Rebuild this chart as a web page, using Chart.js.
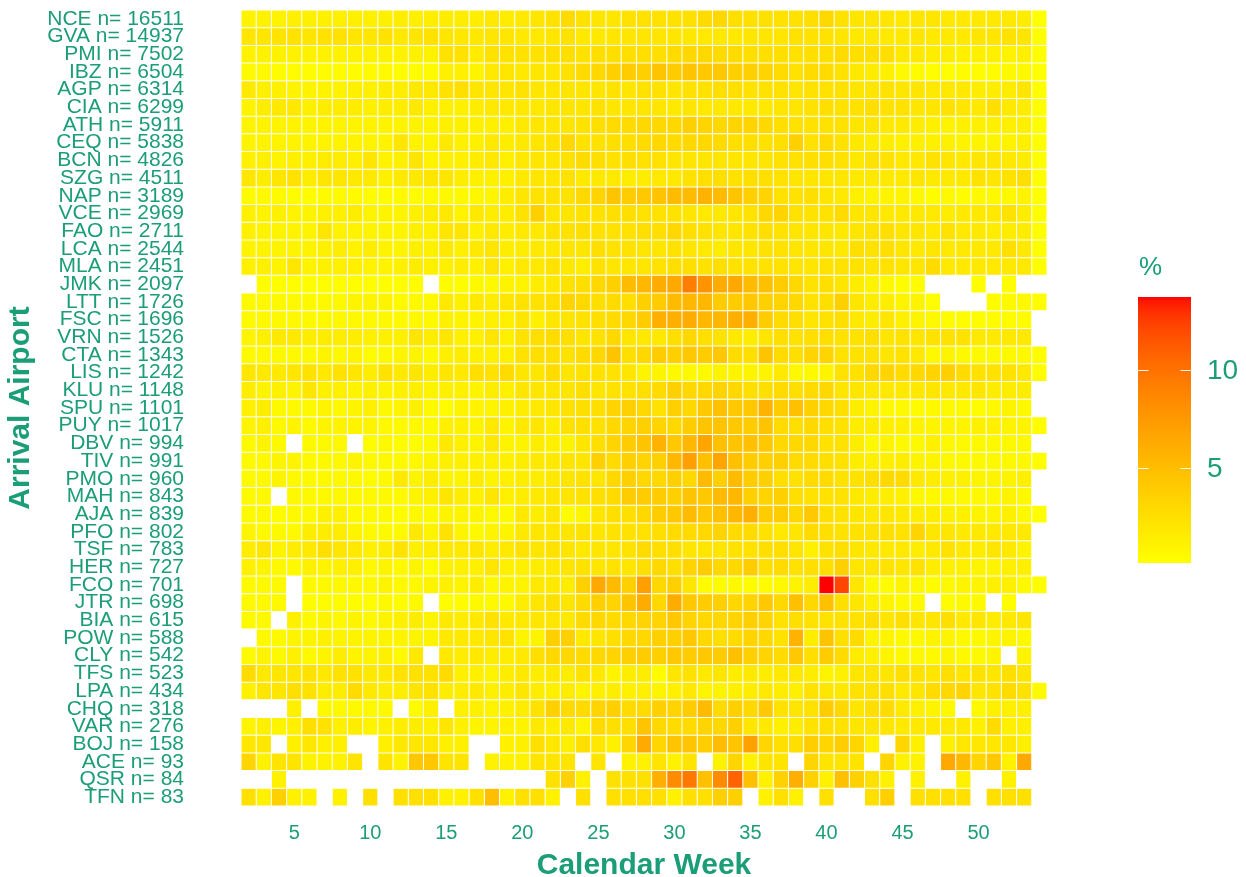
<!DOCTYPE html>
<html>
<head>
<meta charset="utf-8">
<script src="https://cdn.jsdelivr.net/npm/chart.js@4.4.1/dist/chart.umd.min.js"></script>
<style>
  html, body { margin: 0; padding: 0; background: #ffffff; }
  #wrap { width: 1246px; height: 877px; position: relative; }
</style>
</head>
<body>
<div id="wrap"><canvas id="heat" width="1246" height="877"></canvas></div>
<script>
// Arrival airports (top to bottom) and their flight counts
const airports = ['NCE','GVA','PMI','IBZ','AGP','CIA','ATH','CEQ','BCN','SZG','NAP','VCE','FAO','LCA','MLA',
  'JMK','LTT','FSC','VRN','CTA','LIS','KLU','SPU','PUY','DBV','TIV','PMO','MAH','AJA','PFO',
  'TSF','HER','FCO','JTR','BIA','POW','CLY','TFS','LPA','CHQ','VAR','BOJ','ACE','QSR','TFN'];
const flights = [16511,14937,7502,6504,6314,6299,5911,5838,4826,4511,3189,2969,2711,2544,2451,
  2097,1726,1696,1526,1343,1242,1148,1101,1017,994,991,960,843,839,802,
  783,727,701,698,615,588,542,523,434,318,276,158,93,84,83];

// Calendar weeks shown as columns
const weeks = [2,3,4,5,6,7,8,9,10,11,12,13,14,15,16,17,18,19,20,21,22,23,24,25,26,27,28,
  29,30,31,32,33,34,35,36,37,38,39,40,41,42,43,44,45,46,47,48,49,50,51,52,53,54];
const weekTicks = [5,10,15,20,25,30,35,40,45,50];
const legendTicks = [5,10];

// Share of each airport's flights per week, in %, one row per airport (null = no flights)
const weeklyShare = [
  [1.04,1.13,1.04,1.31,1.31,1.22,1.31,1.31,1.22,1.31,1.48,1.31,1.39,1.48,1.48,1.39,1.74,1.57, 1.74,2.0,2.26,2.78,2.26,2.0,2.0,2.26,2.26,2.26,2.26,2.39,2.78,3.05,2.52,2.39,2.39, 2.26,2.26,2.52,3.05,2.26,2.0,2.0,2.0,1.74,2.0,2.0,1.74,1.74,1.74,1.74,1.74,1.48,0.13],
  [2.0,2.0,2.18,2.26,2.0,2.26,2.26,2.0,2.0,2.26,1.74,2.0,2.26,2.0,1.87,1.87,2.0,2.0, 1.74,1.74,2.0,2.26,1.74,1.74,2.0,2.0,2.0,2.0,2.0,1.87,1.74,1.74,1.74,2.0,2.0, 2.0,2.26,2.26,2.26,2.0,1.74,1.74,1.74,1.74,2.0,1.74,1.74,1.74,2.0,2.0,2.26,2.0,0.22],
  [1.13,1.13,1.13,1.13,1.13,1.13,1.13,1.13,1.13,1.13,1.13,1.13,1.13,2.26,2.26,1.57,2.26,2.26, 2.26,2.26,2.52,2.52,2.26,2.52,2.52,2.52,2.52,2.52,2.78,3.05,3.05,2.78,2.78,2.52,2.52, 2.52,2.26,2.52,2.52,2.78,2.52,2.52,2.52,1.74,1.74,1.48,1.48,1.22,1.22,1.22,1.04,1.22,0.22],
  [0.61,0.52,0.44,0.44,0.44,0.44,0.44,0.44,0.52,0.52,0.44,0.39,0.52,1.22,1.22,0.96,1.74,2.0, 1.74,2.0,2.0,2.26,2.78,3.05,3.6,3.9,3.6,4.5,3.9,4.5,4.2,4.2,3.6,3.6,3.31, 2.78,2.26,2.78,2.78,2.26,1.74,1.48,1.22,0.61,0.39,0.22,0.3,0.39,0.39,0.39,0.61,0.61,0.13],
  [1.74,1.22,1.22,1.04,1.04,1.04,1.04,1.22,1.22,1.48,1.48,1.74,1.74,2.26,2.52,2.0,2.0,2.0, 2.26,2.0,2.0,2.0,2.0,2.0,2.26,2.0,2.26,2.26,2.0,2.26,2.26,2.52,2.52,2.26,2.26, 2.26,2.0,2.26,2.26,2.26,2.0,2.0,2.26,2.0,2.0,1.74,1.74,1.74,1.48,1.48,1.48,2.0,0.22],
  [1.04,1.48,1.74,1.74,1.22,1.48,1.48,1.48,1.22,1.48,1.57,1.74,1.22,1.22,1.22,1.48,1.74,1.74, 1.74,1.74,2.0,2.0,2.0,2.26,2.0,2.0,2.0,2.0,1.74,2.0,1.74,1.74,1.74,1.74,1.74, 2.0,2.0,2.26,2.52,2.26,2.26,2.52,2.26,2.26,2.0,2.0,2.26,2.0,1.74,2.52,1.74,1.48,0.22],
  [0.96,1.04,0.96,1.04,0.96,1.04,0.96,0.96,1.04,1.04,0.96,1.04,1.04,1.22,1.22,1.22,1.22,1.22, 1.74,2.0,2.0,2.0,2.26,2.52,2.78,2.78,3.05,3.05,3.05,3.6,3.31,3.05,3.31,3.31,3.05, 2.52,2.26,2.26,2.26,2.26,2.0,2.0,1.74,1.74,1.48,1.22,1.04,1.22,1.22,1.22,1.22,1.22,0.22],
  [1.04,1.04,1.04,1.04,1.04,1.04,1.04,1.04,1.04,1.04,2.0,1.04,0.96,1.74,1.22,1.22,1.74,1.48, 1.74,2.0,2.26,3.05,2.26,2.26,2.52,2.52,2.78,3.05,2.78,3.05,3.05,2.78,2.52,2.52,2.26, 2.52,3.6,2.26,2.78,2.26,1.74,1.48,1.48,1.22,1.22,1.22,1.22,1.04,0.96,0.96,1.04,1.22,0.22],
  [1.22,1.22,1.04,1.22,1.22,1.48,1.48,1.22,2.0,1.04,1.22,2.0,1.04,1.22,1.22,1.48,1.74,1.22, 1.74,2.0,2.0,2.26,2.78,2.52,2.26,2.52,2.26,2.26,2.0,2.0,2.0,2.0,2.0,2.0,2.0, 2.26,2.26,2.52,2.52,2.26,1.74,2.26,2.26,1.74,1.74,2.26,2.0,1.74,2.0,2.0,1.74,1.48,0.22],
  [2.0,1.48,2.0,2.26,1.48,2.0,2.0,1.74,1.74,1.22,1.74,1.74,2.0,2.0,1.48,1.22,1.22,1.22, 1.74,2.0,2.0,2.26,1.74,1.74,1.74,1.48,1.48,1.74,1.74,2.26,2.52,2.52,2.26,2.52,2.52, 2.26,2.0,2.0,2.0,2.0,1.74,1.74,1.74,1.74,2.0,1.74,1.74,1.74,2.26,2.0,2.26,2.52,0.22],
  [0.52,0.52,0.52,0.44,0.44,0.52,0.52,0.52,0.44,0.44,0.52,0.44,0.52,0.61,0.61,0.7,0.87,1.48, 2.0,2.26,2.26,2.26,3.05,3.31,4.5,3.9,4.2,4.5,5.1,5.1,5.7,5.1,4.5,3.6,3.31, 2.26,2.26,2.52,2.0,1.74,1.22,0.96,0.96,0.96,0.61,0.39,0.61,0.39,0.61,0.61,0.61,0.96,0.13],
  [1.22,1.04,1.22,1.04,0.96,1.22,1.22,1.48,0.96,0.96,0.96,1.22,1.48,1.74,1.04,1.74,1.48,1.48, 2.26,3.6,2.0,2.0,2.26,2.26,2.52,2.52,2.26,2.26,2.26,2.0,1.74,1.74,2.0,2.26,3.05, 3.31,2.26,2.26,2.26,2.78,2.0,2.0,1.74,1.74,1.74,1.74,1.48,1.74,1.74,1.74,2.26,1.48,0.22],
  [1.22,1.04,0.96,1.04,0.96,2.0,1.04,1.04,0.96,0.96,0.96,1.22,1.22,2.0,2.0,1.22,1.74,1.48, 1.74,1.74,2.26,2.26,2.52,2.26,2.26,2.26,2.52,2.52,3.05,2.52,2.26,2.0,2.0,2.26,2.52, 2.26,2.0,2.0,2.0,1.74,2.0,2.26,2.52,2.0,2.0,1.74,2.26,1.74,1.74,1.48,1.48,1.48,0.22],
  [1.04,1.04,0.96,0.96,1.04,1.22,1.48,1.04,1.48,1.04,0.96,1.22,1.22,1.74,1.22,1.74,2.0,1.48, 1.48,1.74,1.74,2.0,2.0,2.52,2.26,2.26,2.0,2.0,2.26,2.0,1.74,1.48,2.0,2.0,2.26, 2.26,2.0,2.0,2.0,1.74,2.52,2.26,2.52,2.0,1.74,2.0,1.74,1.74,1.74,1.74,2.52,1.74,0.22],
  [1.22,1.22,1.04,2.0,1.04,1.22,1.22,1.22,1.04,1.04,1.22,1.48,1.22,1.22,1.48,1.22,2.0,1.22, 1.74,1.74,2.26,1.74,1.48,2.26,2.0,2.0,2.0,2.26,2.52,2.52,2.26,2.52,2.26,2.26,2.26, 2.26,2.0,2.0,2.26,2.26,2.26,2.0,2.26,2.0,2.0,2.78,1.74,1.74,1.74,1.74,1.74,1.74,0.22],
  [null,0.3,0.3,0.3,0.3,0.3,0.3,0.3,0.3,0.3,0.3,0.3,null,0.39,0.39,0.61,0.61,0.96, 0.96,1.48,1.74,2.26,2.52,3.05,3.6,5.1,5.4,6.2,6.5,9.2,7.9,6.2,6.5,5.1,4.8, 3.9,3.05,2.26,2.52,2.0,1.48,0.96,0.61,0.39,0.39,null,null,null,0.3,null,0.3,null,null],
  [0.61,0.61,0.61,0.61,0.61,0.61,0.61,0.96,0.96,0.96,0.61,0.61,0.61,1.74,1.22,1.74,1.48,2.0, 2.26,2.26,2.52,3.31,3.05,2.52,2.78,2.52,3.6,3.9,5.1,5.4,5.4,3.9,3.9,4.2,3.6, 3.31,3.05,2.26,2.52,3.6,2.0,1.48,1.48,0.96,0.96,0.3,null,null,null,0.39,0.61,0.61,0.39],
  [0.61,0.61,0.61,0.61,0.61,0.61,0.61,0.61,0.61,0.61,0.61,0.61,0.61,1.22,0.96,0.96,1.22,1.22, 2.0,1.22,2.0,2.0,2.26,2.52,2.78,3.05,3.9,6.0,6.0,6.2,5.4,5.4,6.0,6.0,3.9, 2.78,2.52,2.0,2.26,2.52,1.74,1.48,2.0,1.22,0.96,0.61,0.39,0.39,0.39,0.39,0.39,0.39,null],
  [0.96,1.22,1.74,1.74,1.48,1.48,1.48,1.48,1.22,1.22,1.22,2.0,1.48,2.0,1.22,1.22,2.0,1.22, 2.26,2.52,2.78,2.52,2.0,2.26,3.05,2.0,1.74,1.74,2.52,3.05,2.52,2.26,1.74,1.48,2.0, 2.52,2.26,2.52,2.52,2.26,2.26,2.52,2.0,2.26,2.0,2.26,2.26,2.26,1.74,1.74,1.74,1.74,null],
  [0.61,0.61,0.61,0.61,0.61,0.96,0.61,0.96,0.39,0.61,0.96,0.96,0.61,1.22,1.48,1.22,1.22,1.22, 2.26,2.52,2.52,2.26,2.78,3.05,4.5,2.52,3.05,3.9,3.6,4.2,3.9,4.2,2.78,2.52,4.5, 2.78,2.52,3.31,3.31,2.26,2.26,2.26,2.0,2.26,1.74,0.61,0.96,0.61,0.61,0.61,0.61,0.61,0.39],
  [2.0,1.74,1.74,2.0,2.26,1.74,2.26,2.0,1.48,2.26,1.74,2.0,1.48,2.0,1.74,2.52,2.26,2.78, 2.0,2.0,2.78,2.0,2.26,2.26,2.26,2.0,0.96,0.96,0.61,0.61,0.61,0.96,0.96,0.96,0.96, 1.74,0.61,0.61,0.96,2.26,2.26,3.05,3.31,2.78,3.05,3.31,3.6,2.78,2.26,2.26,2.26,1.74,0.39],
  [1.48,0.96,1.22,0.96,2.0,1.22,1.22,0.96,1.22,0.96,1.22,1.22,0.96,1.22,1.22,0.96,1.48,1.22, 2.0,2.0,2.0,2.0,2.52,2.0,2.26,2.26,2.52,2.78,3.6,3.05,3.05,3.31,3.05,2.52,2.52, 2.78,2.52,2.78,3.05,2.0,2.0,1.74,1.74,1.74,1.74,2.0,1.74,1.74,2.0,1.48,1.48,1.48,null],
  [1.22,1.48,0.61,0.61,0.61,0.96,0.61,0.96,1.22,0.61,0.96,1.22,0.61,0.39,0.96,1.04,0.96,1.22, 1.48,1.74,2.0,2.26,2.52,2.52,3.31,3.6,3.05,2.26,3.6,3.05,4.2,4.8,4.2,4.2,5.7, 3.9,4.8,3.6,3.05,2.52,1.48,0.96,0.61,0.61,0.39,0.61,0.61,0.61,0.39,0.61,0.96,0.61,null],
  [0.96,1.22,0.61,0.96,0.61,0.96,0.96,0.96,0.96,0.61,0.61,0.61,0.61,1.22,1.22,0.96,1.74,0.96, 1.74,2.0,1.48,2.26,2.52,2.26,3.05,3.31,3.6,3.31,3.05,3.9,4.5,4.5,4.2,3.9,4.5, 2.78,2.52,3.05,2.52,2.26,1.48,1.48,1.22,1.22,0.96,0.96,0.96,0.96,1.22,1.22,0.96,0.96,0.39],
  [0.61,0.96,0.61,null,0.61,0.61,0.61,null,0.39,0.61,0.39,0.39,0.61,1.74,1.22,0.96,1.74,0.96, 0.96,1.48,1.22,0.96,2.0,2.52,3.31,3.9,4.5,5.7,4.2,5.4,6.7,4.8,4.5,4.8,4.2, 3.05,3.05,3.05,2.26,2.26,1.48,0.61,0.96,0.61,0.61,1.22,0.61,0.61,0.61,0.61,0.61,0.61,null],
  [0.61,0.61,0.96,0.96,0.61,0.61,0.61,0.96,0.61,0.61,0.61,0.61,0.96,1.22,1.22,1.22,1.22,1.22, 1.48,1.74,1.74,2.0,2.0,3.6,2.78,3.6,3.31,3.6,5.4,7.0,4.8,6.7,4.8,3.9,3.6, 3.6,2.78,2.78,2.52,2.26,1.48,1.22,1.22,1.48,0.96,0.96,0.61,0.61,0.61,0.61,0.61,0.61,0.39],
  [0.61,0.61,0.96,0.61,0.61,0.61,0.61,0.61,0.39,0.61,1.74,0.96,1.48,0.96,0.96,1.48,0.96,1.22, 1.48,1.48,1.74,2.0,2.26,2.0,3.05,3.6,3.05,3.05,3.6,3.05,5.1,3.6,5.1,3.9,3.6, 2.52,2.26,2.78,2.78,2.26,2.26,2.52,3.05,2.78,1.74,1.48,1.22,1.22,0.96,0.96,0.96,1.22,null],
  [0.61,0.61,null,0.61,0.61,0.61,0.61,0.61,0.61,0.61,0.61,0.96,1.22,2.0,1.48,1.22,2.0,1.22, 1.48,1.74,2.0,2.0,2.26,2.52,2.78,3.9,3.9,3.9,3.6,4.5,4.2,5.1,5.4,3.6,3.31, 3.6,2.52,2.26,2.26,2.26,1.74,1.48,1.48,1.22,0.61,0.61,0.61,0.61,0.61,0.61,0.96,0.61,null],
  [0.61,0.61,0.39,0.61,0.61,1.22,1.22,0.61,0.61,0.61,0.39,0.61,0.61,0.96,0.96,0.96,0.61,0.61, 1.74,1.48,2.0,0.3,0.96,2.0,2.52,2.52,3.05,3.9,4.2,5.1,4.2,4.8,5.4,6.0,3.9, 3.9,3.05,4.2,2.52,2.26,2.0,1.74,2.0,1.74,1.48,1.48,1.22,1.22,0.96,0.96,1.22,0.61,0.3],
  [0.96,0.61,0.61,0.61,1.48,1.48,1.48,0.96,0.61,0.61,0.61,1.74,0.96,2.26,0.96,0.61,0.96,0.96, 1.74,2.0,2.0,2.0,2.26,2.0,2.26,2.26,2.26,2.52,2.78,2.78,3.05,3.31,2.78,2.78,2.26, 1.74,2.0,2.78,2.52,2.26,2.26,2.26,2.52,2.26,3.31,2.0,2.0,1.74,1.74,1.74,1.74,1.74,null],
  [1.48,2.0,0.96,1.48,1.74,2.52,2.0,1.74,1.22,1.48,2.26,1.22,1.48,1.74,1.74,2.0,1.48,1.74, 2.26,2.0,2.26,2.0,1.74,2.0,2.0,2.26,2.78,2.52,2.52,2.0,2.0,2.0,2.26,2.26,2.52, 2.52,2.0,1.22,2.26,2.52,2.0,1.74,1.74,1.74,1.48,1.74,2.26,1.74,1.48,2.0,1.74,0.96,null],
  [1.22,0.96,0.61,0.61,1.22,0.96,1.22,1.22,0.61,0.96,0.61,0.96,0.39,1.22,1.22,1.22,2.0,1.22, 1.22,1.48,1.74,2.0,2.26,2.0,2.26,2.0,2.52,3.05,2.52,3.31,3.9,3.05,3.05,3.9,2.52, 2.78,2.26,2.52,2.52,3.6,2.0,2.0,2.26,2.0,2.26,1.48,1.22,1.22,0.96,0.96,1.22,1.22,null],
  [0.61,0.61,0.61,null,0.61,0.61,0.61,0.61,0.61,0.96,0.61,0.61,0.96,1.22,0.96,1.48,0.61,0.96, 0.96,1.74,1.74,1.48,3.6,6.5,5.1,3.6,7.0,3.05,3.6,2.0,0.39,0.39,0.61,0.39,0.39, 0.61,0.96,1.48,13.7,12.2,2.0,0.61,0.39,0.96,0.61,0.39,0.61,0.96,0.96,1.22,1.22,0.61,0.39],
  [0.61,0.61,0.61,null,0.39,0.39,0.39,0.39,0.3,0.61,0.39,0.61,null,0.3,0.39,0.61,0.61,0.61, 1.48,2.0,2.52,2.0,2.78,3.6,3.31,4.5,6.2,3.05,6.2,4.2,3.9,3.6,3.05,3.31,4.2, 3.05,4.8,3.05,4.8,2.52,2.0,1.22,0.96,0.61,0.61,null,0.39,0.61,0.61,null,0.3,null,null],
  [0.61,0.61,null,1.22,0.61,0.96,0.61,0.96,0.61,0.96,1.22,1.48,0.96,1.74,1.48,1.74,2.26,1.74, 1.74,2.0,2.0,1.74,2.78,3.05,2.78,3.05,3.31,3.31,4.2,3.31,3.05,3.05,3.31,3.6,3.31, 2.26,2.52,2.26,2.26,2.26,2.26,2.52,2.0,2.52,2.0,2.0,2.52,1.74,2.0,1.48,1.74,2.0,null],
  [null,0.61,0.61,0.96,0.96,1.22,0.96,0.96,0.96,0.96,0.96,0.96,0.96,1.74,1.74,1.74,2.0,2.26, 0.96,0.96,3.6,3.6,1.74,2.0,2.52,3.05,3.05,3.6,3.6,4.2,3.05,2.52,2.78,3.31,3.05, 2.26,5.7,1.48,4.5,2.52,2.78,0.96,0.96,0.61,0.61,0.96,0.96,0.61,0.61,0.96,0.96,0.61,null],
  [0.61,0.96,0.61,1.22,0.61,0.96,1.48,0.96,0.96,1.22,0.61,1.74,null,1.74,1.48,1.74,1.48,1.48, 1.74,2.52,3.05,3.05,2.78,3.05,3.31,3.6,3.9,3.6,4.2,3.9,4.2,3.9,4.8,3.6,3.31, 2.78,4.2,2.52,3.9,2.78,1.48,1.22,0.96,0.61,0.61,0.61,0.96,0.61,0.61,0.96,null,0.96,null],
  [2.78,1.74,2.0,2.0,2.26,1.74,2.26,2.26,1.74,1.74,2.26,2.26,2.26,2.78,1.22,1.22,0.96,1.48, 1.74,1.48,1.74,1.48,2.26,1.74,0.96,1.48,1.48,0.39,2.0,2.26,1.74,2.0,1.48,1.74,1.48, 1.74,1.74,1.48,0.96,1.22,2.0,2.0,2.0,2.52,2.26,2.0,2.52,2.0,2.26,2.0,2.52,2.0,null],
  [1.22,2.0,2.0,2.52,2.26,1.48,1.48,2.78,1.74,1.48,1.48,2.0,2.26,1.48,1.48,1.74,1.22,1.48, 2.0,1.48,1.22,1.48,0.96,1.22,1.48,1.22,1.22,0.96,1.22,1.74,0.96,0.96,1.22,1.48,1.74, 1.48,1.22,2.26,2.0,1.74,2.26,2.26,2.52,1.74,2.0,2.78,3.05,3.31,2.0,2.26,2.78,2.26,0.61],
  [null,null,null,1.22,null,0.61,0.61,0.61,0.61,0.61,null,0.39,1.22,null,1.22,1.22,0.96,1.22, 1.48,2.26,3.6,2.78,2.78,3.31,3.6,2.78,2.78,3.6,3.31,3.9,5.1,2.78,3.6,3.05,4.2, 2.26,2.0,2.26,3.9,3.05,2.0,2.52,2.78,1.74,1.22,0.96,0.61,null,0.61,1.22,1.22,1.22,null],
  [0.96,1.22,0.96,1.22,2.52,2.26,1.22,1.48,0.96,1.22,1.48,1.48,1.22,2.0,1.22,0.96,0.96,1.22, 0.96,1.74,1.48,1.74,0.96,2.78,2.52,2.52,4.5,3.05,2.78,2.78,3.31,3.05,3.6,2.0,1.74, 1.22,1.48,2.26,2.52,2.26,2.0,2.0,2.0,1.74,1.74,1.74,1.74,1.74,1.22,2.78,1.22,1.22,null],
  [1.9,1.9,null,1.27,1.9,1.27,1.27,null,null,1.27,1.9,1.9,1.9,1.27,1.27,null,null,1.27, 1.27,2.53,1.9,1.27,2.53,1.9,1.27,3.16,6.33,3.16,4.43,4.43,3.8,5.06,4.43,6.96,3.16, 2.53,2.53,3.8,3.16,3.8,3.16,1.27,null,3.16,1.27,null,1.27,1.9,1.9,1.9,1.9,1.27,null],
  [3.23,1.08,2.15,2.15,1.08,1.08,1.08,2.15,null,2.15,1.08,4.3,4.3,2.15,2.15,null,1.08,1.08, 1.08,2.15,2.15,2.15,null,2.15,null,1.08,1.08,2.15,1.08,2.15,null,1.08,3.23,1.08,2.15, 2.15,null,3.23,2.15,2.15,2.15,null,3.23,1.08,1.08,null,6.45,5.38,3.23,4.3,1.08,6.45,null],
  [null,null,1.19,null,null,null,null,null,null,null,null,null,null,null,null,null,null,null, null,null,2.38,3.57,1.19,null,2.38,2.38,2.38,5.95,8.33,9.52,4.76,8.33,10.7,4.76,1.19, 3.57,5.95,3.57,1.19,4.76,3.57,2.38,1.19,null,1.19,null,null,1.19,null,null,1.19,null,null],
  [2.41,1.2,3.61,1.2,1.2,null,1.2,null,2.41,null,2.41,2.41,2.41,1.2,1.2,2.41,4.82,1.2, 2.41,2.41,1.2,null,2.41,null,2.41,2.41,2.41,2.41,1.2,2.41,2.41,3.61,3.61,null,1.2, 2.41,1.2,null,2.41,null,null,2.41,3.61,null,2.41,2.41,2.41,2.41,null,2.41,2.41,2.41,null]
];

const TEAL = '#1B9E77';
const FONT = '"Liberation Sans", Arial, Helvetica, sans-serif';
Chart.defaults.font.family = FONT;
Chart.defaults.color = TEAL;

// ---- yellow -> red colour ramp, interpolated in CIE Lab ----
function toLin(c) { c /= 255; return c <= 0.04045 ? c / 12.92 : Math.pow((c + 0.055) / 1.055, 2.4); }
function fromLin(c) { c = Math.max(0, Math.min(1, c)); return c <= 0.0031308 ? 12.92 * c : 1.055 * Math.pow(c, 1 / 2.4) - 0.055; }
function rgbToLab(rgb) {
  const R = toLin(rgb[0]), G = toLin(rgb[1]), B = toLin(rgb[2]);
  const X = (0.4124564 * R + 0.3575761 * G + 0.1804375 * B) / 0.95047;
  const Y = (0.2126729 * R + 0.7151522 * G + 0.0721750 * B);
  const Z = (0.0193339 * R + 0.1191920 * G + 0.9503041 * B) / 1.08883;
  const f = t => t > 216 / 24389 ? Math.cbrt(t) : (24389 / 27 * t + 16) / 116;
  const fx = f(X), fy = f(Y), fz = f(Z);
  return [116 * fy - 16, 500 * (fx - fy), 200 * (fy - fz)];
}
function labToRgb(lab) {
  const fy = (lab[0] + 16) / 116, fx = fy + lab[1] / 500, fz = fy - lab[2] / 200;
  const inv = t => t * t * t > 216 / 24389 ? t * t * t : (116 * t - 16) / (24389 / 27);
  const X = inv(fx) * 0.95047, Y = inv(fy), Z = inv(fz) * 1.08883;
  const R = 3.2404542 * X - 1.5371385 * Y - 0.4985314 * Z;
  const G = -0.9692660 * X + 1.8760108 * Y + 0.0415560 * Z;
  const B = 0.0556434 * X - 0.2040259 * Y + 1.0572252 * Z;
  return [R, G, B].map(c => Math.round(fromLin(c) * 255));
}
const LOW = rgbToLab([255, 255, 0]);
const HIGH = rgbToLab([255, 0, 0]);
const allValues = weeklyShare.flat().filter(v => v !== null);
const vmin = Math.min(...allValues);
const vmax = Math.max(...allValues);
function fillFor(v) {
  const t = Math.max(0, Math.min(1, (v - vmin) / (vmax - vmin)));
  const lab = LOW.map((c, i) => c + (HIGH[i] - c) * t);
  const rgb = labToRgb(lab);
  return `rgb(${rgb[0]},${rgb[1]},${rgb[2]})`;
}

// one floating-bar dataset per week; each bar spans one week on the x axis
const rowLabels = airports.map((a, i) => `${a} n= ${flights[i]}`);
const datasets = weeks.map((w, j) => ({
  label: 'Week ' + w,
  data: weeklyShare.map(row => row[j] === null ? null : [w - 0.5, w + 0.5]),
  backgroundColor: weeklyShare.map(row => row[j] === null ? 'rgba(0,0,0,0)' : fillFor(row[j])),
  borderColor: 'rgba(255,255,255,0.9)',
  borderWidth: 0.5,
  borderSkipped: false,
  inflateAmount: 0,
  grouped: false,
  barPercentage: 1,
  categoryPercentage: 1
}));

// colour bar legend drawn beside the plot
const colourBar = {
  id: 'colourBar',
  afterDraw(chart) {
    const ctx = chart.ctx;
    const x0 = 1138, w = 53, yTop = 297, yBot = 563;
    ctx.save();
    for (let y = yTop; y < yBot; y++) {
      const v = vmax - ((y + 0.5 - yTop) / (yBot - yTop)) * (vmax - vmin);
      ctx.fillStyle = fillFor(v);
      ctx.fillRect(x0, y, w, 1);
    }
    ctx.font = `28px ${FONT}`;
    ctx.textAlign = 'left';
    ctx.textBaseline = 'middle';
    legendTicks.forEach(v => {
      const y = Math.round(yBot - ((v - vmin) / (vmax - vmin)) * (yBot - yTop)) + 0.5;
      ctx.strokeStyle = 'rgba(255,255,255,0.9)';
      ctx.lineWidth = 1;
      ctx.beginPath();
      ctx.moveTo(x0, y); ctx.lineTo(x0 + w / 5, y);
      ctx.moveTo(x0 + w - w / 5, y); ctx.lineTo(x0 + w, y);
      ctx.stroke();
      ctx.fillStyle = TEAL;
      ctx.fillText(String(v), 1207, y + 1);
    });
    ctx.font = `26px ${FONT}`;
    ctx.fillStyle = TEAL;
    ctx.fillText('%', 1139, 268);
    ctx.restore();
  }
};

new Chart(document.getElementById('heat'), {
  type: 'bar',
  data: { labels: rowLabels, datasets },
  options: {
    indexAxis: 'y',
    responsive: false,
    animation: false,
    events: [],
    layout: { padding: { top: 10, right: 199, bottom: 0, left: 0 } },
    plugins: { legend: { display: false }, tooltip: { enabled: false } },
    scales: {
      x: {
        type: 'linear',
        position: 'bottom',
        min: weeks[0] - 0.5,
        max: weeks[weeks.length - 1] + 0.5,
        grid: { display: false, drawTicks: false },
        border: { display: false },
        afterBuildTicks: s => { s.ticks = weekTicks.map(v => ({ value: v })); },
        afterFit: s => { s.height = 71; s.paddingLeft = 0; s.paddingRight = 0; },
        ticks: { color: TEAL, font: { size: 20 }, padding: 15, autoSkip: false, maxRotation: 0 },
        title: {
          display: true, text: 'Calendar Week', color: TEAL,
          font: { size: 30, weight: 'bold', lineHeight: 1 },
          padding: { top: 0, bottom: -4 }
        }
      },
      y: {
        type: 'category',
        grid: { display: false, drawTicks: false },
        border: { display: false },
        afterFit: s => { s.width = 241; s.paddingTop = 0; s.paddingBottom = 0; },
        ticks: { color: TEAL, font: { size: 21 }, padding: 57, autoSkip: false },
        title: {
          display: true, text: 'Arrival Airport', color: TEAL,
          font: { size: 30, weight: 'bold', lineHeight: 1 },
          padding: { top: 6, bottom: 0 }
        }
      }
    }
  },
  plugins: [colourBar]
});
</script>
</body>
</html>
